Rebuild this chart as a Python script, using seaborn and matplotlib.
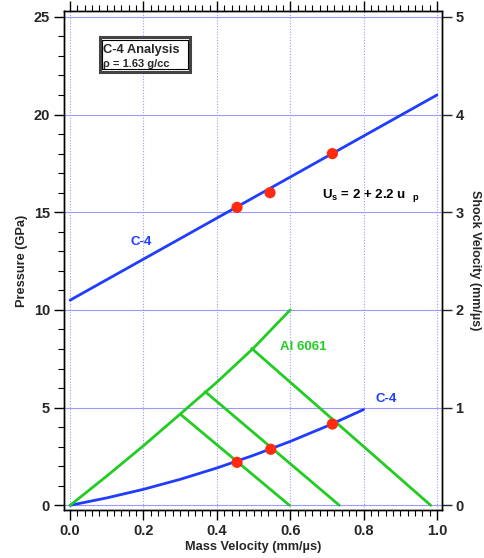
import matplotlib
matplotlib.use("Agg")
import matplotlib.pyplot as plt
import seaborn as sns
import pandas as pd
from matplotlib.patches import Rectangle
from matplotlib.ticker import MultipleLocator

# ---- data ----
us_line_up = [0.0, 1.0]
us_line_p = [10.5, 21.0]

us_pts_up = [0.455, 0.545, 0.715]
us_pts_p = [15.25, 16.0, 18.0]

c4_hug_up = [0.0, 0.1, 0.2, 0.3, 0.4, 0.5, 0.6, 0.7, 0.8]
c4_hug_p = [0.0, 0.38, 0.82, 1.33, 1.91, 2.56, 3.27, 4.05, 4.9]

al_hug_up = [0.0, 0.1, 0.2, 0.3, 0.4, 0.5, 0.6]
al_hug_p = [0.0, 1.5, 3.05, 4.67, 6.3, 8.05, 10.0]

release_start_up = [0.30, 0.368, 0.495]
release_start_p = [4.67, 5.82, 8.03]
release_end_up = [0.598, 0.734, 0.983]
release_end_p = [0.0, 0.0, 0.0]

hug_pts_up = [0.455, 0.547, 0.715]
hug_pts_p = [2.20, 2.87, 4.16]

x_ticks = [0.0, 0.2, 0.4, 0.6, 0.8, 1.0]
y_ticks = [0, 5, 10, 15, 20, 25]
y2_ticks = [0, 1, 2, 3, 4, 5]

BLUE = "#1f3cff"
GREEN = "#22cc22"
RED = "#ff2a10"
GRID = "#9999ff"

sns.set_theme(style="white")
plt.rcParams["font.family"] = ["Liberation Sans", "DejaVu Sans"]
plt.rcParams["font.weight"] = "bold"

fig = plt.figure(figsize=(4.84, 5.58), dpi=100)
ax = fig.add_axes([0.132, 0.086, 0.7806, 0.8943])

# grid
for y in y_ticks:
    ax.axhline(y, color=GRID, lw=0.8, zorder=0)
for x in x_ticks:
    ax.axvline(x, color=GRID, lw=0.8, ls=(0, (1, 1.5)), zorder=0)

df_us = pd.DataFrame({"up": us_line_up, "p": us_line_p})
sns.lineplot(data=df_us, x="up", y="p", ax=ax, color=BLUE, lw=2, sort=False)

df_c4 = pd.DataFrame({"up": c4_hug_up, "p": c4_hug_p})
sns.lineplot(data=df_c4, x="up", y="p", ax=ax, color=BLUE, lw=2, sort=False)

df_al = pd.DataFrame({"up": al_hug_up, "p": al_hug_p})
sns.lineplot(data=df_al, x="up", y="p", ax=ax, color=GREEN, lw=2, sort=False)

for x0, y0, x1, y1 in zip(release_start_up, release_start_p, release_end_up, release_end_p):
    d = pd.DataFrame({"up": [x0, x1], "p": [y0, y1]})
    sns.lineplot(data=d, x="up", y="p", ax=ax, color=GREEN, lw=2, sort=False)

sns.scatterplot(x=us_pts_up, y=us_pts_p, ax=ax, color=RED, s=65, edgecolor="none", zorder=5)
sns.scatterplot(x=hug_pts_up, y=hug_pts_p, ax=ax, color=RED, s=65, edgecolor="none", zorder=5)

ax.set_xlim(-0.017, 1.013)
ax.set_ylim(-0.24, 25.3)
ax.set_xticks(x_ticks)
ax.set_xticklabels([f"{v:.1f}" for v in x_ticks])
ax.set_yticks(y_ticks)
ax.xaxis.set_minor_locator(MultipleLocator(0.02))
ax.yaxis.set_minor_locator(MultipleLocator(1))
ax.tick_params(axis="x", which="major", direction="out", length=7, width=1,
               labelsize=10.5, top=True, bottom=True, color="black", pad=3)
ax.tick_params(axis="x", which="minor", direction="out", length=4, width=0.8,
               top=True, bottom=True, color="black")
ax.tick_params(axis="y", which="major", direction="out", length=7, width=1,
               labelsize=10.5, left=True, right=False, color="black", pad=3)
ax.tick_params(axis="y", which="minor", direction="out", length=4, width=0.8,
               left=True, right=False, color="black")
for lab in ax.get_xticklabels() + ax.get_yticklabels():
    lab.set_fontweight("bold")

ax.set_xlabel("Mass Velocity (mm/\u00b5s)", fontsize=9.2, fontweight="bold", labelpad=2)
ax.set_ylabel("Pressure (GPa)", fontsize=9.2, fontweight="bold", labelpad=4)
for s in ax.spines.values():
    s.set_color("black")
    s.set_linewidth(1)

ax2 = ax.twinx()
ax2.set_ylim(-0.24 / 5, 25.3 / 5)
ax2.set_yticks(y2_ticks)
ax2.tick_params(axis="y", direction="out", length=7, width=1, labelsize=10.5, right=True, pad=3)
for lab in ax2.get_yticklabels():
    lab.set_fontweight("bold")
ax2.set_ylabel("Shock Velocity (mm/\u00b5s)", fontsize=9.0, fontweight="bold",
               rotation=-90, labelpad=12)
ax2.grid(False)
for s in ax2.spines.values():
    s.set_color("black")
    s.set_linewidth(1)

# annotations
ax.text(0.164, 13.5, "C-4", color=BLUE, fontsize=9.5, fontweight="bold", va="center", ha="left")
ax.text(0.571, 8.12, "Al 6061", color=GREEN, fontsize=9.5, fontweight="bold", va="center", ha="left")
ax.text(0.832, 5.45, "C-4", color=BLUE, fontsize=9.5, fontweight="bold", va="center", ha="left")
ax.text(0.686, 15.85, "U$_\\mathregular{s}$ = 2 + 2.2 u  $_\\mathregular{p}$", color="black",
        fontsize=9.5, fontweight="bold", va="center", ha="left")

# title box
ax.add_patch(Rectangle((0.0953, 0.8778), 0.2383, 0.0691, transform=ax.transAxes,
                       fill=True, facecolor="white", edgecolor="#444444", lw=2.2, zorder=6))
ax.add_patch(Rectangle((0.1, 0.8838), 0.2293, 0.0571, transform=ax.transAxes,
                       fill=False, edgecolor="black", lw=0.8, zorder=7))
ax.text(0.104, 0.921, "C-4 Analysis", transform=ax.transAxes, fontsize=9.3,
        fontweight="bold", va="center", ha="left", zorder=8)
ax.text(0.104, 0.894, "\u03c1 = 1.63 g/cc", transform=ax.transAxes, fontsize=8,
        fontweight="bold", va="center", ha="left", zorder=8)

fig.savefig("out.png", dpi=100)
